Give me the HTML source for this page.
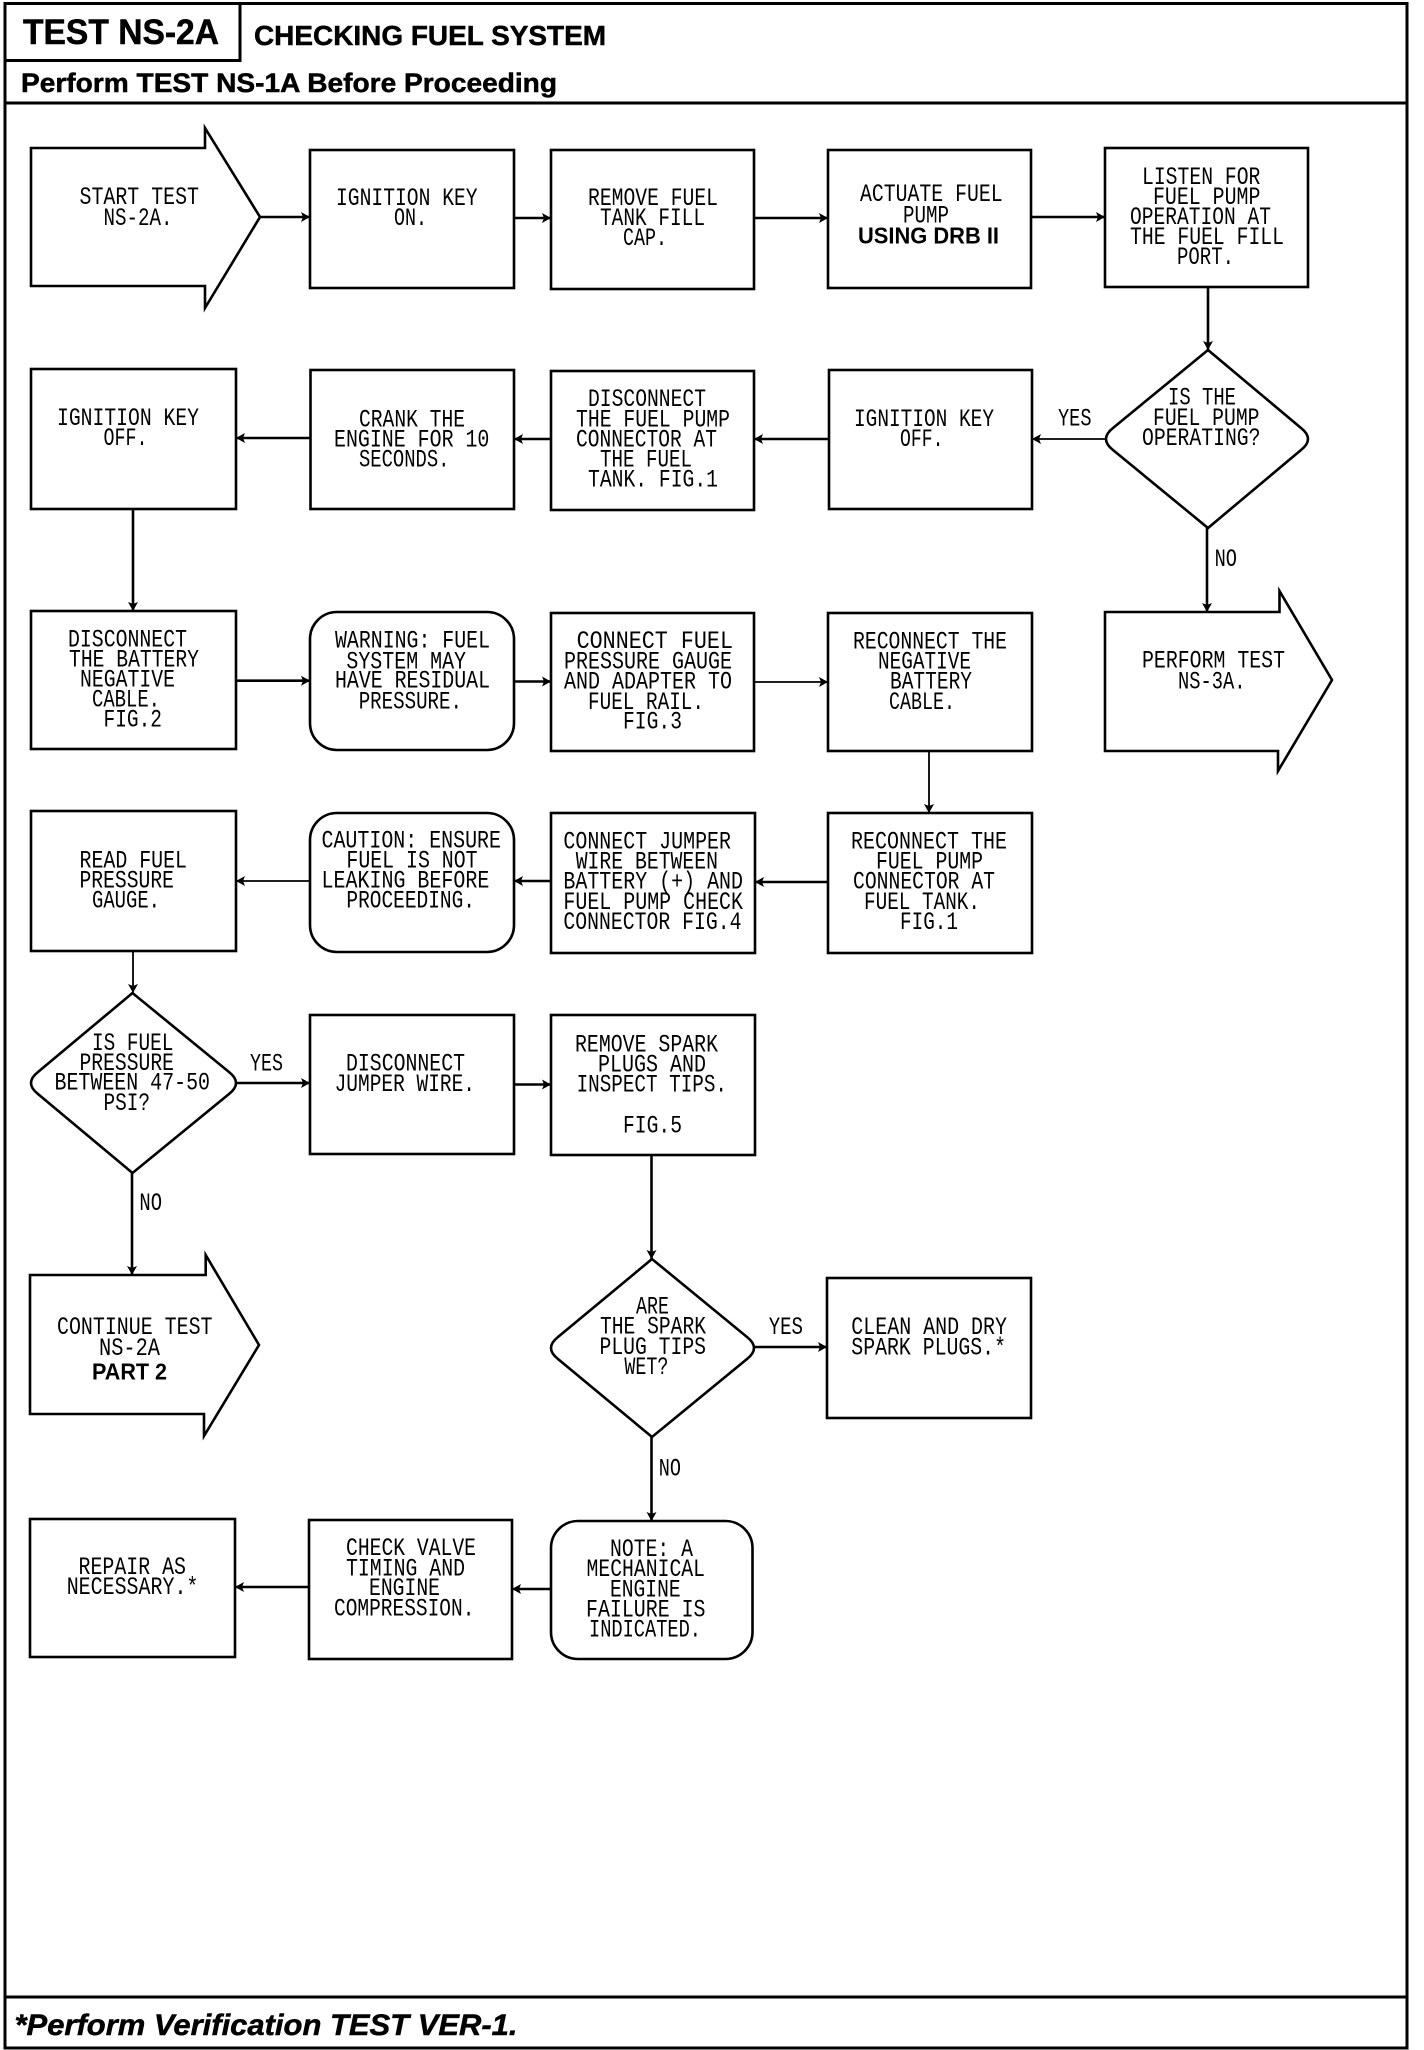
<!DOCTYPE html>
<html>
<head>
<meta charset="utf-8">
<title>TEST NS-2A Checking Fuel System</title>
<style>
html,body{margin:0;padding:0;background:#fff;width:1424px;height:2050px;overflow:hidden}
svg{display:block}
.s{fill:#fff;stroke:#000;stroke-width:2.6}
.l{fill:none;stroke:#000;stroke-width:2.6;marker-end:url(#a)}
.t{fill:none;stroke:#000;stroke-width:1.8;marker-end:url(#a)}
.f{fill:none;stroke:#000;stroke-width:3}
text{fill:#000;font-family:"Liberation Mono",monospace;font-size:25px}
.b{font-family:"Liberation Sans",sans-serif;font-weight:bold}
.h{stroke:#000;stroke-width:.5}
</style>
</head>
<body>
<svg xmlns="http://www.w3.org/2000/svg" width="1424" height="2050" viewBox="0 0 1424 2050">
<defs>
<marker id="a" markerUnits="userSpaceOnUse" markerWidth="10" markerHeight="12" refX="9" refY="6" orient="auto">
<path d="M0,1 L9,6 L0,11 L2,6 Z" fill="#000"/>
</marker>
</defs>
<rect width="1424" height="2050" fill="#fff"/>

<!-- frame -->
<rect class="f" x="5" y="3.5" width="1402" height="2044.5"/>
<path class="f" d="M5,60.5 H240 V3.5"/>
<path class="f" d="M5,103 H1407"/>
<path class="f" d="M5,1997 H1407"/>
<text class="b h" x="23" y="44" style="font-size:35px" textLength="196" lengthAdjust="spacingAndGlyphs">TEST NS-2A</text>
<text class="b h" x="254" y="45" style="font-size:28px" textLength="352" lengthAdjust="spacingAndGlyphs">CHECKING FUEL SYSTEM</text>
<text class="b h" x="21" y="92" style="font-size:27px" textLength="536" lengthAdjust="spacingAndGlyphs">Perform TEST NS-1A Before Proceeding</text>
<text class="b h" x="14.5" y="2035" style="font-size:30px;font-style:italic" textLength="503" lengthAdjust="spacingAndGlyphs">*Perform Verification TEST VER-1.</text>

<!-- connectors -->
<path class="l" d="M260,217 H310"/>
<path class="l" d="M514,218 H551"/>
<path class="l" d="M754,218 H828"/>
<path class="l" d="M1031,217 H1105"/>
<path class="l" d="M1208,287 V350"/>
<path class="t" d="M1107,439 H1032"/>
<path class="l" d="M829,439 H754"/>
<path class="l" d="M551,439 H514"/>
<path class="l" d="M310,438 H236"/>
<path class="l" d="M133,509 V611"/>
<path class="l" d="M1207,528 V612"/>
<path class="l" d="M236,680.7 H310"/>
<path class="l" d="M514,681.5 H551"/>
<path class="t" d="M755,682 H828"/>
<path class="t" d="M929,751 V813"/>
<path class="l" d="M828,882 H755"/>
<path class="l" d="M551,881 H514"/>
<path class="t" d="M310,881 H236"/>
<path class="t" d="M133,951 V993"/>
<path class="l" d="M235,1083 H310"/>
<path class="l" d="M514,1084.5 H551"/>
<path class="l" d="M132,1173 V1275"/>
<path class="l" d="M651.5,1155 V1259"/>
<path class="l" d="M753,1347 H827"/>
<path class="l" d="M651.5,1437 V1521"/>
<path class="l" d="M551,1589 H512"/>
<path class="l" d="M309,1587 H235"/>

<!-- arrows -->
<path class="s" d="M31,148 H205 V128 L260,217 L205,308 V286 H31 Z"/>
<path class="s" d="M1105,612 H1279.5 V591 L1332,680 L1278,771 V751 H1105 Z"/>
<path class="s" d="M30,1275 H205.7 V1255 L259,1345 L204,1436 V1414 H30 Z"/>

<!-- rectangles -->
<rect class="s" x="310" y="150" width="204" height="138"/>
<rect class="s" x="551" y="150" width="203" height="139"/>
<rect class="s" x="828" y="150" width="203" height="138"/>
<rect class="s" x="1105" y="148" width="203" height="139"/>
<rect class="s" x="31" y="369" width="205" height="140"/>
<rect class="s" x="310.5" y="370" width="203.5" height="139"/>
<rect class="s" x="551" y="371" width="203" height="139"/>
<rect class="s" x="829" y="370" width="203" height="139"/>
<rect class="s" x="31" y="611" width="205" height="138"/>
<rect class="s" x="310" y="612" width="204" height="138" rx="27" ry="27"/>
<rect class="s" x="551" y="613" width="203" height="138"/>
<rect class="s" x="828" y="613" width="204" height="138"/>
<rect class="s" x="31" y="811" width="205" height="140"/>
<rect class="s" x="310" y="813" width="204" height="139" rx="27" ry="27"/>
<rect class="s" x="551" y="813" width="204" height="140"/>
<rect class="s" x="828" y="813" width="204" height="140"/>
<rect class="s" x="310" y="1015" width="204" height="139"/>
<rect class="s" x="551" y="1015" width="204" height="140"/>
<rect class="s" x="827" y="1278" width="204" height="140"/>
<rect class="s" x="30" y="1519" width="205" height="138"/>
<rect class="s" x="309" y="1520" width="203" height="139"/>
<rect class="s" x="551" y="1521" width="201.5" height="138" rx="27" ry="27"/>

<!-- diamonds -->
<path class="s" d="M1208,350 L1113,428 Q1099,439 1113,450 L1208,528 L1301,450 Q1315,439 1301,428 Z"/>
<path class="s" d="M132.5,993 L38,1072 Q24,1083 38,1094 L132.5,1173 L229,1094 Q243,1083 229,1072 Z"/>
<path class="s" d="M652,1259 L558,1337 Q544,1348 558,1359 L652,1437 L747,1359 Q761,1348 747,1337 Z"/>

<!-- row 1 -->
<text x="79.5" y="204" textLength="119.5" lengthAdjust="spacingAndGlyphs">START TEST</text>
<text x="103.5" y="225" textLength="69" lengthAdjust="spacingAndGlyphs">NS-2A.</text>
<text x="336" y="205" textLength="141.6" lengthAdjust="spacingAndGlyphs">IGNITION KEY</text>
<text x="394" y="225" textLength="33" lengthAdjust="spacingAndGlyphs">ON.</text>
<text x="588" y="205" textLength="130" lengthAdjust="spacingAndGlyphs">REMOVE FUEL</text>
<text x="600" y="225" textLength="105" lengthAdjust="spacingAndGlyphs">TANK FILL</text>
<text x="623" y="245" textLength="44" lengthAdjust="spacingAndGlyphs">CAP.</text>
<text x="860" y="201" textLength="142.6" lengthAdjust="spacingAndGlyphs">ACTUATE FUEL</text>
<text x="903" y="222.7" textLength="46" lengthAdjust="spacingAndGlyphs">PUMP</text>
<text class="b" x="858" y="243.5" style="font-size:23px" textLength="141" lengthAdjust="spacingAndGlyphs">USING DRB II</text>
<text x="1142" y="184" textLength="118.4" lengthAdjust="spacingAndGlyphs">LISTEN FOR</text>
<text x="1153" y="204" textLength="107.4" lengthAdjust="spacingAndGlyphs">FUEL PUMP</text>
<text x="1130" y="224" textLength="141" lengthAdjust="spacingAndGlyphs">OPERATION AT</text>
<text x="1130" y="244" textLength="154" lengthAdjust="spacingAndGlyphs">THE FUEL FILL</text>
<text x="1177" y="264" textLength="57" lengthAdjust="spacingAndGlyphs">PORT.</text>

<!-- row 2 -->
<text x="57" y="425" textLength="142" lengthAdjust="spacingAndGlyphs">IGNITION KEY</text>
<text x="103.5" y="445" textLength="44" lengthAdjust="spacingAndGlyphs">OFF.</text>
<text x="359" y="426.7" textLength="106" lengthAdjust="spacingAndGlyphs">CRANK THE</text>
<text x="334" y="446.7" textLength="155.4" lengthAdjust="spacingAndGlyphs">ENGINE FOR 10</text>
<text x="359" y="466.7" textLength="90.5" lengthAdjust="spacingAndGlyphs">SECONDS.</text>
<text x="588" y="406" textLength="118" lengthAdjust="spacingAndGlyphs">DISCONNECT</text>
<text x="576" y="426.7" textLength="154" lengthAdjust="spacingAndGlyphs">THE FUEL PUMP</text>
<text x="576" y="446.7" textLength="141" lengthAdjust="spacingAndGlyphs">CONNECTOR AT</text>
<text x="600" y="466.7" textLength="92" lengthAdjust="spacingAndGlyphs">THE FUEL</text>
<text x="588" y="486.7" textLength="130" lengthAdjust="spacingAndGlyphs">TANK. FIG.1</text>
<text x="854" y="426" textLength="140" lengthAdjust="spacingAndGlyphs">IGNITION KEY</text>
<text x="900" y="446" textLength="43.5" lengthAdjust="spacingAndGlyphs">OFF.</text>
<text x="1058" y="425.7" textLength="33.5" lengthAdjust="spacingAndGlyphs">YES</text>
<text x="1168" y="404.3" textLength="68" lengthAdjust="spacingAndGlyphs">IS THE</text>
<text x="1153" y="425" textLength="106.5" lengthAdjust="spacingAndGlyphs">FUEL PUMP</text>
<text x="1142" y="445" textLength="118.5" lengthAdjust="spacingAndGlyphs">OPERATING?</text>
<text x="1214.6" y="566" textLength="22.4" lengthAdjust="spacingAndGlyphs">NO</text>

<!-- row 3 -->
<text x="68" y="646.7" textLength="119" lengthAdjust="spacingAndGlyphs">DISCONNECT</text>
<text x="69" y="666.7" textLength="130" lengthAdjust="spacingAndGlyphs">THE BATTERY</text>
<text x="80" y="686.7" textLength="95" lengthAdjust="spacingAndGlyphs">NEGATIVE</text>
<text x="92" y="706.7" textLength="68" lengthAdjust="spacingAndGlyphs">CABLE.</text>
<text x="103.5" y="726.7" textLength="58.5" lengthAdjust="spacingAndGlyphs">FIG.2</text>
<text x="335" y="647.7" textLength="155" lengthAdjust="spacingAndGlyphs">WARNING: FUEL</text>
<text x="346.4" y="668.3" textLength="119.6" lengthAdjust="spacingAndGlyphs">SYSTEM MAY</text>
<text x="335" y="687.7" textLength="155" lengthAdjust="spacingAndGlyphs">HAVE RESIDUAL</text>
<text x="358.7" y="708.3" textLength="103.3" lengthAdjust="spacingAndGlyphs">PRESSURE.</text>
<text x="576.6" y="648" textLength="156.4" lengthAdjust="spacingAndGlyphs">CONNECT FUEL</text>
<text x="564" y="668.3" textLength="168" lengthAdjust="spacingAndGlyphs">PRESSURE GAUGE</text>
<text x="564" y="688.3" textLength="168" lengthAdjust="spacingAndGlyphs">AND ADAPTER TO</text>
<text x="588" y="709" textLength="116" lengthAdjust="spacingAndGlyphs">FUEL RAIL.</text>
<text x="623" y="728.3" textLength="59" lengthAdjust="spacingAndGlyphs">FIG.3</text>
<text x="853" y="648.3" textLength="154" lengthAdjust="spacingAndGlyphs">RECONNECT THE</text>
<text x="878" y="668.7" textLength="93" lengthAdjust="spacingAndGlyphs">NEGATIVE</text>
<text x="890" y="688.3" textLength="82" lengthAdjust="spacingAndGlyphs">BATTERY</text>
<text x="889" y="709" textLength="66" lengthAdjust="spacingAndGlyphs">CABLE.</text>
<text x="1142" y="667.7" textLength="143" lengthAdjust="spacingAndGlyphs">PERFORM TEST</text>
<text x="1178" y="688.3" textLength="67.5" lengthAdjust="spacingAndGlyphs">NS-3A.</text>

<!-- row 4 -->
<text x="79.5" y="867.3" textLength="107.5" lengthAdjust="spacingAndGlyphs">READ FUEL</text>
<text x="79.5" y="887.5" textLength="94.5" lengthAdjust="spacingAndGlyphs">PRESSURE</text>
<text x="92" y="907.5" textLength="68" lengthAdjust="spacingAndGlyphs">GAUGE.</text>
<text x="321.5" y="847.7" textLength="179.5" lengthAdjust="spacingAndGlyphs">CAUTION: ENSURE</text>
<text x="346.4" y="867.7" textLength="131.2" lengthAdjust="spacingAndGlyphs">FUEL IS NOT</text>
<text x="321.5" y="887.7" textLength="167.9" lengthAdjust="spacingAndGlyphs">LEAKING BEFORE</text>
<text x="346.4" y="907.7" textLength="128.6" lengthAdjust="spacingAndGlyphs">PROCEEDING.</text>
<text x="563.4" y="848.3" textLength="167.6" lengthAdjust="spacingAndGlyphs">CONNECT JUMPER</text>
<text x="575.7" y="868.3" textLength="142.3" lengthAdjust="spacingAndGlyphs">WIRE BETWEEN</text>
<text x="563.4" y="888.3" textLength="179.6" lengthAdjust="spacingAndGlyphs">BATTERY (+) AND</text>
<text x="563.4" y="909" textLength="179.6" lengthAdjust="spacingAndGlyphs">FUEL PUMP CHECK</text>
<text x="563.4" y="929" textLength="178.1" lengthAdjust="spacingAndGlyphs">CONNECTOR FIG.4</text>
<text x="851" y="848.3" textLength="156" lengthAdjust="spacingAndGlyphs">RECONNECT THE</text>
<text x="876" y="868.3" textLength="107" lengthAdjust="spacingAndGlyphs">FUEL PUMP</text>
<text x="853" y="888.3" textLength="142" lengthAdjust="spacingAndGlyphs">CONNECTOR AT</text>
<text x="864" y="909" textLength="116" lengthAdjust="spacingAndGlyphs">FUEL TANK.</text>
<text x="900" y="929" textLength="58" lengthAdjust="spacingAndGlyphs">FIG.1</text>

<!-- row 5 -->
<text x="92" y="1050" textLength="81.4" lengthAdjust="spacingAndGlyphs">IS FUEL</text>
<text x="79.5" y="1070" textLength="94.5" lengthAdjust="spacingAndGlyphs">PRESSURE</text>
<text x="54.5" y="1089.3" textLength="155.5" lengthAdjust="spacingAndGlyphs">BETWEEN 47-50</text>
<text x="103.5" y="1110" textLength="46.5" lengthAdjust="spacingAndGlyphs">PSI?</text>
<text x="250" y="1070.3" textLength="33" lengthAdjust="spacingAndGlyphs">YES</text>
<text x="346" y="1070.7" textLength="119" lengthAdjust="spacingAndGlyphs">DISCONNECT</text>
<text x="334.6" y="1091" textLength="140.4" lengthAdjust="spacingAndGlyphs">JUMPER WIRE.</text>
<text x="575" y="1051.7" textLength="143" lengthAdjust="spacingAndGlyphs">REMOVE SPARK</text>
<text x="598" y="1071.7" textLength="108" lengthAdjust="spacingAndGlyphs">PLUGS AND</text>
<text x="576.6" y="1091.7" textLength="150.4" lengthAdjust="spacingAndGlyphs">INSPECT TIPS.</text>
<text x="623" y="1132.3" textLength="59" lengthAdjust="spacingAndGlyphs">FIG.5</text>
<text x="139.4" y="1210" textLength="22.6" lengthAdjust="spacingAndGlyphs">NO</text>

<!-- row 6 -->
<text x="57" y="1334" textLength="155.5" lengthAdjust="spacingAndGlyphs">CONTINUE TEST</text>
<text x="99" y="1355" textLength="61" lengthAdjust="spacingAndGlyphs">NS-2A</text>
<text class="b" x="92" y="1379.3" style="font-size:23px" textLength="75" lengthAdjust="spacingAndGlyphs">PART 2</text>
<text x="636" y="1313.3" textLength="33" lengthAdjust="spacingAndGlyphs">ARE</text>
<text x="600" y="1333.7" textLength="106" lengthAdjust="spacingAndGlyphs">THE SPARK</text>
<text x="599.5" y="1354" textLength="106.5" lengthAdjust="spacingAndGlyphs">PLUG TIPS</text>
<text x="624.4" y="1374" textLength="44" lengthAdjust="spacingAndGlyphs">WET?</text>
<text x="768.7" y="1334" textLength="34.3" lengthAdjust="spacingAndGlyphs">YES</text>
<text x="851.3" y="1334" textLength="155.7" lengthAdjust="spacingAndGlyphs">CLEAN AND DRY</text>
<text x="851.3" y="1354.3" textLength="154.7" lengthAdjust="spacingAndGlyphs">SPARK PLUGS.*</text>
<text x="658.8" y="1475.3" textLength="22.2" lengthAdjust="spacingAndGlyphs">NO</text>

<!-- row 7 -->
<text x="78.5" y="1574" textLength="107.5" lengthAdjust="spacingAndGlyphs">REPAIR AS</text>
<text x="66.7" y="1594" textLength="131.7" lengthAdjust="spacingAndGlyphs">NECESSARY.*</text>
<text x="346" y="1555" textLength="130" lengthAdjust="spacingAndGlyphs">CHECK VALVE</text>
<text x="346" y="1575.7" textLength="119" lengthAdjust="spacingAndGlyphs">TIMING AND</text>
<text x="369" y="1595" textLength="71" lengthAdjust="spacingAndGlyphs">ENGINE</text>
<text x="334" y="1615.7" textLength="140.4" lengthAdjust="spacingAndGlyphs">COMPRESSION.</text>
<text x="610" y="1556" textLength="83" lengthAdjust="spacingAndGlyphs">NOTE: A</text>
<text x="586.5" y="1576" textLength="118.5" lengthAdjust="spacingAndGlyphs">MECHANICAL</text>
<text x="610" y="1596.7" textLength="70.6" lengthAdjust="spacingAndGlyphs">ENGINE</text>
<text x="586" y="1616.7" textLength="119.5" lengthAdjust="spacingAndGlyphs">FAILURE IS</text>
<text x="589" y="1636.7" textLength="112" lengthAdjust="spacingAndGlyphs">INDICATED.</text>
</svg>
</body>
</html>
